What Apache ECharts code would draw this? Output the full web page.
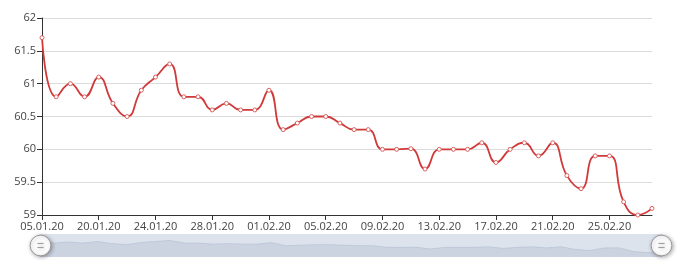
<!DOCTYPE html>
<html>
<head>
<meta charset="utf-8">
<script src="https://cdn.jsdelivr.net/npm/echarts@6/dist/echarts.min.js"></script>
<style>
html,body{margin:0;padding:0;background:#fff;}
#chart{width:680px;height:266px;}
</style>
</head>
<body>
<div id="chart"></div>
<script>
const categories = ['05.01.20','17.01.20','18.01.20','19.01.20','20.01.20','21.01.20','22.01.20','23.01.20','24.01.20','25.01.20','26.01.20','27.01.20','28.01.20','29.01.20','30.01.20','31.01.20','01.02.20','02.02.20','03.02.20','04.02.20','05.02.20','06.02.20','07.02.20','08.02.20','09.02.20','10.02.20','11.02.20','12.02.20','13.02.20','14.02.20','15.02.20','16.02.20','17.02.20','18.02.20','19.02.20','20.02.20','21.02.20','22.02.20','23.02.20','24.02.20','25.02.20','26.02.20','27.02.20','28.02.20'];
const values = [61.7,60.8,61.0,60.8,61.1,60.7,60.5,60.9,61.1,61.3,60.8,60.8,60.6,60.7,60.6,60.6,60.9,60.3,60.4,60.5,60.5,60.4,60.3,60.3,60.0,60.0,60.01,59.7,60.0,60.0,60.0,60.1,59.8,60.0,60.1,59.9,60.1,59.6,59.4,59.9,59.9,59.2,59.0,59.1];
const yMin = 59, yMax = 62, yStep = 0.5;

const chart = echarts.init(document.getElementById('chart'), null, {renderer:'canvas'});
const font = 'Open Sans';
chart.setOption({
  animation: false,
  grid: {left: 42, right: 28, top: 18, bottom: 51},
  xAxis: {
    type: 'category',
    data: categories,
    boundaryGap: false,
    axisLine: {lineStyle: {color: '#333'}},
    axisTick: {show: true, interval: 3, lineStyle: {color: '#333'}},
    axisLabel: {interval: 3, color: '#444', fontSize: 11, fontFamily: font, margin: 6},
    splitLine: {show: false}
  },
  yAxis: {
    type: 'value',
    min: yMin, max: yMax, interval: yStep,
    axisLine: {show: true, lineStyle: {color: '#333'}},
    axisTick: {show: true, lineStyle: {color: '#333'}},
    axisLabel: {color: '#444', fontSize: 11, fontFamily: font, margin: 6},
    splitLine: {show: true, lineStyle: {color: '#dcdcdc'}}
  },
  dataZoom: [{
    type: 'slider',
    start: 0, end: 100,
    left: 37, right: 20, bottom: 9, height: 23,
    showDetail: false,
    brushSelect: false,
    moveHandleSize: 0,
    borderColor: 'transparent',
    backgroundColor: 'rgba(0,0,0,0)',
    fillerColor: 'rgba(180,194,214,0.45)',
    dataBackground: {lineStyle: {color: '#bcc6d4', width: 0.8}, areaStyle: {color: '#c8d0dc', opacity: 0.6}},
    selectedDataBackground: {lineStyle: {color: '#bcc6d4', width: 0.8}, areaStyle: {color: '#c8d0dc', opacity: 0.6}},
    handleIcon: 'path://M0,10 A10,10 0 1 1 20,10 A10,10 0 1 1 0,10 Z M7,8 L13,8 M7,12 L13,12',
    handleSize: '90%',
    handleStyle: {color: '#fff', borderColor: '#999', borderWidth: 1, shadowBlur: 4, shadowColor: 'rgba(0,0,0,0.35)', shadowOffsetX: 1, shadowOffsetY: 1}
  }],
  series: [{
    type: 'line',
    data: values,
    smooth: true,
    symbol: 'circle',
    symbolSize: 4,
    showAllSymbol: true,
    lineStyle: {color: '#d03a3a', width: 1.8},
    itemStyle: {color: '#fff', borderColor: '#d9605f', borderWidth: 1}
  }]
});
</script>
</body>
</html>
